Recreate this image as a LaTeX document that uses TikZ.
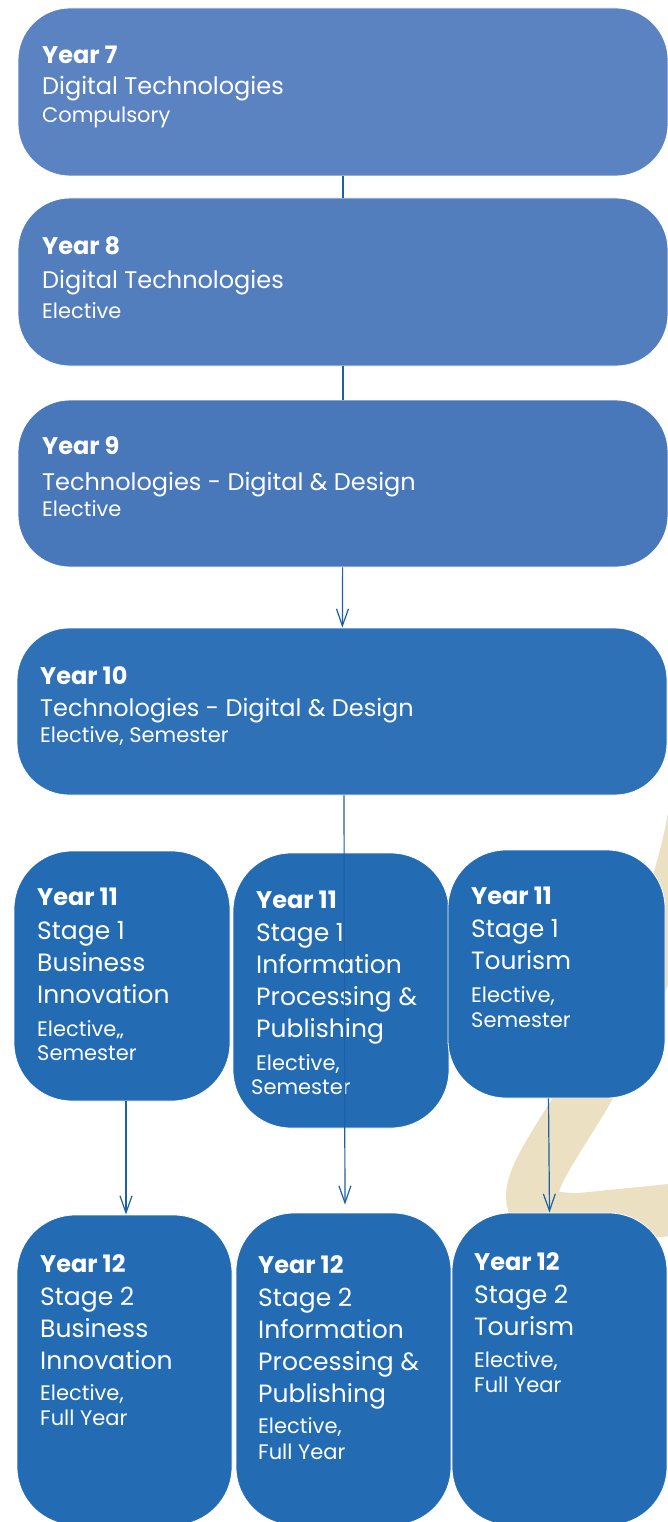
\documentclass[tikz,border=0pt]{standalone}
\usepackage{fontspec}
\setmainfont{Poppins}
\usetikzlibrary{graphs,arrows.meta}
\definecolor{tone7}{HTML}{5B83C2}
\definecolor{tone8}{HTML}{537EBD}
\definecolor{tone9}{HTML}{4878BA}
\definecolor{tone10}{HTML}{2F71B6}
\definecolor{tone11}{HTML}{236CB4}
\definecolor{wire}{HTML}{1C60A8}
\definecolor{sand}{HTML}{ECE0C2}
\newcommand\yr[1]{{\fontsize{24}{24}\selectfont\bfseries #1}}
\newcommand\sub[1]{{\fontsize{21}{21}\selectfont #1}}
\tikzset{
    wide/.style ={
        shape=rectangle,
        rounded corners=52pt,
        draw=white,
        line width=0.8pt,
        fill=#1,
        minimum width=650pt,
        minimum height=168pt
    },
    tall/.style ={
        shape=rectangle,
        rounded corners=58pt,
        draw=white,
        line width=0.8pt,
        fill=tone11,
        minimum width=216pt
    },
    cardtext/.style ={
        anchor=north west,
        inner sep=0pt,
        align=left,
        text=white,
        font=\fontsize{24}{32}\selectfont
    },
    stagetext/.style ={
        cardtext,
        font=\fontsize{25}{32}\selectfont
    }
}

\begin{document}
\begin{tikzpicture}[x=1pt,y=-1pt,>={Straight Barb[length=17pt,width=12pt]}]
    \fill[white] (0,0) rectangle (667,1522);
    \useasboundingbox (0,0) rectangle (667,1522);
    % swoosh behind the right column
    \draw[sand, line width=52pt]
        (700,770) .. controls (690,900) and (615,1040) .. (585,1095)
        .. controls (540,1170) and (495,1220) .. (580,1219) -- (720,1205);

    \node[wide=tone7] (y7) at(343,92) {};
    \node[wide=tone8] (y8) at(343,282) {};
    \node[wide=tone9, minimum height=167pt] (y9) at(343,483.5) {};
    \node[wide=tone10, minimum height=167pt] (y10) at(342,711.5) {};
    \node[tall, minimum height=250pt] (y11a) at(122,976) {};
    \node[tall, minimum height=275pt] (y11b) at(341,990.5) {};
    \node[tall, minimum height=248pt, minimum width=217pt] (y11c) at(556.5,974) {};
    \node[tall, minimum height=310pt, minimum width=215pt] (y12a) at(124.5,1370) {};
    \node[tall, minimum height=312pt, minimum width=215pt] (y12b) at(343.5,1369) {};
    \node[tall, minimum height=312pt, minimum width=215pt] (y12c) at(559.5,1369) {};

    \node[cardtext] (t7) at(42,46) {\yr{Year 7}\\[-1pt] Digital Technologies\\[-4pt] \sub{Compulsory}};
    \node[cardtext] (t8) at(42,236) {\yr{Year 8}\\[2pt] Digital Technologies\\[-2pt] \sub{Elective}};
    \node[cardtext] (t9) at(42,436) {\yr{Year 9}\\[4pt] Technologies - Digital \& Design\\[-6pt] \sub{Elective}};
    \node[cardtext] (t10) at(40,666) {\yr{Year 10}\\ Technologies - Digital \& Design\\[-6pt] \sub{Elective, Semester}};

    \node[stagetext] (t11a) at(37,888) {\yr{Year 11}\\[2pt] Stage 1\\ Business\\ Innovation\\[1pt]
        \sub{Elective,,}\\[-8pt] \sub{Semester}};
    \node[stagetext] (t11b) at(256,891) {\yr{Year 11}\\[1pt] Stage 1\\ Information\\ Processing \&\\ Publishing\\[1pt]
        \sub{Elective,}\\[-8pt] \hspace*{-5pt}\sub{Semester}};
    \node[stagetext] (t11c) at(471,887) {\yr{Year 11}\\[1pt] Stage 1\\ Tourism\\[1pt]
        \sub{Elective,}\\[-7pt] \sub{Semester}};

    \node[stagetext] (t12a) at(40,1254) {\yr{Year 12}\\[1pt] Stage 2\\ Business\\ Innovation\\[-1pt]
        \sub{Elective,}\\[-7pt] \sub{Full Year}};
    \node[stagetext] (t12b) at(258,1255) {\yr{Year 12}\\[1pt] Stage 2\\ Information\\ Processing \&\\ Publishing\\[-1pt]
        \sub{Elective,}\\[-6pt] \sub{Full Year}};
    \node[stagetext] (t12c) at(474,1252) {\yr{Year 12}\\[1pt] Stage 2\\ Tourism\\
        \sub{Elective,}\\[-7pt] \sub{Full Year}};

    \graph[edges={draw=wire, line width=1.2pt}]{
        (y7) -- (y8) -- (y9) -> (y10);
    };
    \draw[->, wire, line width=1.2pt, shorten >=8pt] ([xshift=2pt]y10.south) -- ([xshift=1.5pt]y12b.north);
    \draw[->, wire, line width=1.2pt] ([xshift=4pt]y11a.south) -- ([xshift=1.5pt]y12a.north);
    \draw[->, wire, line width=1.2pt] ([xshift=-8pt]y11c.south) -- ([xshift=-10pt]y12c.north);
\end{tikzpicture}
\end{document}
